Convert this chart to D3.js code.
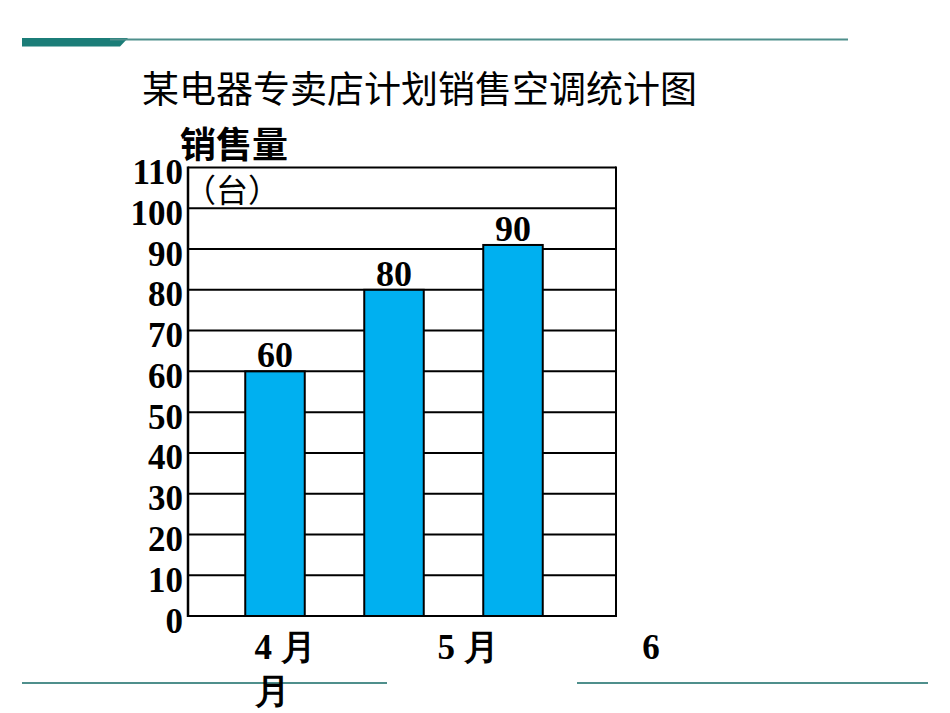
<!DOCTYPE html>
<html>
<head>
<meta charset="utf-8">
<script src="https://cdn.jsdelivr.net/npm/d3@7"></script>
<style>
  body { margin: 0; background: #fff; }
  svg { display: block; }
  .num { font-family: "Liberation Serif", "DejaVu Serif", serif; font-weight: bold; fill: #000; }
  .cjk { font-family: "Noto Sans CJK SC", sans-serif; fill: #000; }
</style>
</head>
<body>
<svg id="chart"></svg>
<script>
"use strict";

// chart data
const months = ["4月", "5月", "6月"];
const sales = [60, 80, 91];          // bar heights as drawn
const salesLabels = ["60", "80", "90"]; // numbers written on top of the bars
const yTicks = [0, 10, 20, 30, 40, 50, 60, 70, 80, 90, 100, 110];
const monthTickLabels = ["4 月", "5 月", "6"];

const width = 950, height = 713;
const svg = d3.select("#chart").attr("width", width).attr("height", height);

// slide decoration lines
svg.append("path")
    .attr("d", "M22,38 L128,38 L120,46.5 L22,46.5 Z")
    .attr("fill", "#1b7d78");
svg.append("line")
    .attr("x1", 110).attr("x2", 848).attr("y1", 39.5).attr("y2", 39.5)
    .attr("stroke", "#4f8f8c").attr("stroke-width", 2);
svg.append("line")
    .attr("x1", 22).attr("x2", 387).attr("y1", 683).attr("y2", 683)
    .attr("stroke", "#4f8f8c").attr("stroke-width", 2);
svg.append("line")
    .attr("x1", 577).attr("x2", 928).attr("y1", 683).attr("y2", 683)
    .attr("stroke", "#4f8f8c").attr("stroke-width", 2);

// title
svg.append("text")
    .attr("class", "cjk")
    .attr("x", 142).attr("y", 103)
    .attr("font-size", 37)
    .text("某电器专卖店计划销售空调统计图");

const plot = { left: 188, right: 616, top: 167.5, bottom: 616 };

const y = d3.scaleLinear()
    .domain([0, 110])
    .range([plot.bottom, plot.top]);

// bars sit in a band scale that does not span the whole frame
const x = d3.scaleBand()
    .domain(months)
    .range([215.5, 572.5])
    .paddingInner(0.5)
    .paddingOuter(0.25);

const g = svg.append("g");

// horizontal grid lines
g.selectAll("line.grid")
    .data(yTicks)
    .join("line")
    .attr("class", "grid")
    .attr("x1", plot.left).attr("x2", plot.right)
    .attr("y1", d => y(d)).attr("y2", d => y(d))
    .attr("stroke", "#000").attr("stroke-width", 2);

// frame sides
g.append("line")
    .attr("x1", plot.left).attr("x2", plot.left)
    .attr("y1", plot.top - 1).attr("y2", plot.bottom + 1)
    .attr("stroke", "#000").attr("stroke-width", 2.5);
g.append("line")
    .attr("x1", plot.right).attr("x2", plot.right)
    .attr("y1", plot.top - 1).attr("y2", plot.bottom + 1)
    .attr("stroke", "#000").attr("stroke-width", 2);

// y tick labels
g.selectAll("text.ytick")
    .data(yTicks)
    .join("text")
    .attr("class", "ytick num")
    .attr("x", 183)
    .attr("y", d => y(d) + 16.5)
    .attr("text-anchor", "end")
    .attr("font-size", 35)
    .text(d => d);

// bars
const barData = months.map((m, i) => ({ month: m, value: sales[i], label: salesLabels[i] }));

g.selectAll("rect.bar")
    .data(barData)
    .join("rect")
    .attr("class", "bar")
    .attr("x", d => x(d.month))
    .attr("y", d => y(d.value))
    .attr("width", x.bandwidth())
    .attr("height", d => y(0) - y(d.value))
    .attr("fill", "#00b0f0")
    .attr("stroke", "#000")
    .attr("stroke-width", 2);

g.selectAll("text.barlabel")
    .data(barData)
    .join("text")
    .attr("class", "barlabel num")
    .attr("x", d => x(d.month) + x.bandwidth() / 2)
    .attr("y", d => y(d.value) - 4)
    .attr("text-anchor", "middle")
    .attr("font-size", 36)
    .text(d => d.label);

// y axis title
svg.append("text")
    .attr("class", "cjk")
    .attr("x", 180).attr("y", 158)
    .attr("font-size", 36)
    .attr("font-weight", "bold")
    .text("销售量");
svg.append("text")
    .attr("class", "cjk")
    .attr("x", 184).attr("y", 202)
    .attr("font-size", 32)
    .text("（台）");

// month labels (the last one wraps under the first, as in the slide)
const xm = d3.scalePoint()
    .domain(monthTickLabels)
    .range([285, 651]);

g.selectAll("text.month")
    .data(monthTickLabels)
    .join("text")
    .attr("class", "month num")
    .attr("x", d => xm(d))
    .attr("y", 659)
    .attr("text-anchor", "middle")
    .attr("font-size", 35)
    .text(d => d);

svg.append("text")
    .attr("class", "num")
    .attr("x", 272).attr("y", 703)
    .attr("text-anchor", "middle")
    .attr("font-size", 35)
    .text("月");
</script>
</body>
</html>
